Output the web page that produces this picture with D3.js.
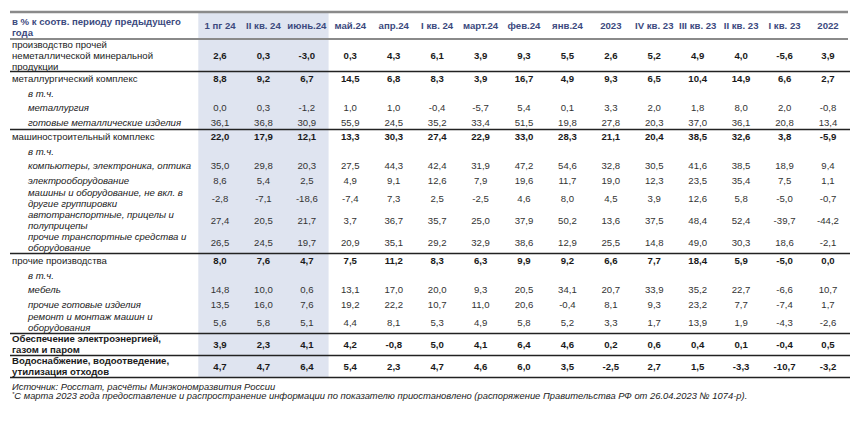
<!DOCTYPE html>
<html><head><meta charset="utf-8">
<script src="https://cdn.jsdelivr.net/npm/d3@7"></script>
<style>
html,body{margin:0;padding:0;background:#fff;}
svg{display:block;font-family:"Liberation Sans",Arial,sans-serif;}
</style></head>
<body><svg id="c" width="860" height="427"></svg>
<script>
// ---------- DATA ----------
const headerTitle = ["в % к соотв. периоду предыдущего", "года"];
const columns = ["1 пг 24","II кв. 24","июнь.24","май.24","апр.24","I кв. 24","март.24","фев.24","янв.24","2023","IV кв. 23","III кв. 23","II кв. 23","I кв. 23","2022"];
const highlighted = ["1 пг 24","II кв. 24","июнь.24"];

const nonMetal      = [2.6,0.3,-3.0,0.3,4.3,6.1,3.9,9.3,5.5,2.6,5.2,4.9,4.0,-5.6,3.9];
const metalComplex  = [8.8,9.2,6.7,14.5,6.8,8.3,3.9,16.7,4.9,9.3,6.5,10.4,14.9,6.6,2.7];
const metallurgy    = [0.0,0.3,-1.2,1.0,1.0,-0.4,-5.7,5.4,0.1,3.3,2.0,1.8,8.0,2.0,-0.8];
const metalProducts = [36.1,36.8,30.9,55.9,24.5,35.2,33.4,51.5,19.8,27.8,20.3,37.0,36.1,20.8,13.4];
const machComplex   = [22.0,17.9,12.1,13.3,30.3,27.4,22.9,33.0,28.3,21.1,20.4,38.5,32.6,3.8,-5.9];
const computers     = [35.0,29.8,20.3,27.5,44.3,42.4,31.9,47.2,54.6,32.8,30.5,41.6,38.5,18.9,9.4];
const electrical    = [8.6,5.4,2.5,4.9,9.1,12.6,7.9,19.6,11.7,19.0,12.3,23.5,35.4,7.5,1.1];
const machinery     = [-2.8,-7.1,-18.6,-7.4,7.3,2.5,-2.5,4.6,8.0,4.5,3.9,12.6,5.8,-5.0,-0.7];
const motorVehicles = [27.4,20.5,21.7,3.7,36.7,35.7,25.0,37.9,50.2,13.6,37.5,48.4,52.4,-39.7,-44.2];
const otherTransport= [26.5,24.5,19.7,20.9,35.1,29.2,32.9,38.6,12.9,25.5,14.8,49.0,30.3,18.6,-2.1];
const otherMfg      = [8.0,7.6,4.7,7.5,11.2,8.3,6.3,9.9,9.2,6.6,7.7,18.4,5.9,-5.0,0.0];
const furniture     = [14.8,10.0,0.6,13.1,17.0,20.0,9.3,20.5,34.1,20.7,33.9,35.2,22.7,-6.6,10.7];
const otherGoods    = [13.5,16.0,7.6,19.2,22.2,10.7,11.0,20.6,-0.4,8.1,9.3,23.2,7.7,-7.4,1.7];
const repair        = [5.6,5.8,5.1,4.4,8.1,5.3,4.9,5.8,5.2,3.3,1.7,13.9,1.9,-4.3,-2.6];
const electricity   = [3.9,2.3,4.1,4.2,-0.8,5.0,4.1,6.4,4.6,0.2,0.6,0.4,0.1,-0.4,0.5];
const water         = [4.7,4.7,6.4,5.4,2.3,4.7,4.6,6.0,3.5,-2.5,2.7,1.5,-3.3,-10.7,-3.2];

const sourceNote = "Источник: Росстат, расчёты Минэкономразвития России";
const footNote = "С марта 2023 года предоставление и распространение информации по показателю приостановлено (распоряжение Правительства РФ от 26.04.2023 № 1074-р).";

// row table: [label lines, kind, values, rule below]
const rows = [
  [["производство прочей","неметаллической минеральной","продукции"], "main", nonMetal, true],
  [["металлургический комплекс"], "main", metalComplex, false],
  [["в т.ч."], "sub", null, false],
  [["металлургия"], "sub", metallurgy, false],
  [["готовые металлические изделия"], "sub", metalProducts, true],
  [["машиностроительный комплекс"], "main", machComplex, false],
  [["в т.ч."], "sub", null, false],
  [["компьютеры, электроника, оптика"], "sub", computers, false],
  [["электрооборудование"], "sub", electrical, false],
  [["машины и оборудование, не вкл. в","другие группировки"], "sub", machinery, false],
  [["автотранспортные, прицелы и","полуприцепы"], "sub", motorVehicles, false],
  [["прочие транспортные средства и","оборудование"], "sub", otherTransport, true],
  [["прочие производства"], "main", otherMfg, false],
  [["в т.ч."], "sub", null, false],
  [["мебель"], "sub", furniture, false],
  [["прочие готовые изделия"], "sub", otherGoods, false],
  [["ремонт и монтаж машин и","оборудования"], "sub", repair, true],
  [["Обеспечение электроэнергией,","газом и паром"], "total", electricity, true],
  [["Водоснабжение, водоотведение,","утилизация отходов"], "total", water, true]
];

// ---------- DRAW ----------
const svg = d3.select("#c");
const fmt = d3.formatLocale({decimal:",", thousands:" ", grouping:[3], currency:["",""], minus:"-"}).format(".1f");

const left = 10, right = 850, headerTop = 12, headerBottom = 39;
const x = d3.scaleBand().domain(columns).range([198.3, 849.7]).padding(0);
const fs = 9.6, lineH = 11;

const heightOf = r => r[2] === "total" ? 23.5 : (r[0].length === 1 ? 14.5 : (r[0].length === 2 ? 22 : 32.5));
const tops = [headerBottom];
rows.forEach((r,i) => tops.push(tops[i] + heightOf(r)));
const bottom = tops[tops.length-1];

// highlighted column shading
const hx0 = x(highlighted[0]), hx1 = x(highlighted[highlighted.length-1]) + x.bandwidth();
svg.append("rect").attr("x", hx0).attr("y", headerTop).attr("width", hx1 - hx0)
  .attr("height", bottom - headerTop).attr("fill", "#dfe4f0");

// header
const headerColor = "#3c4a7e";
const ht = svg.append("text").attr("x", 12).attr("font-size", fs).attr("font-weight", "bold").attr("fill", headerColor);
headerTitle.forEach((t,i) => ht.append("tspan").attr("x", 12).attr("y", 24.5 + i*lineH).text(t));
svg.selectAll("text.col").data(columns).join("text").attr("class","col")
  .attr("x", d => x(d) + x.bandwidth()/2).attr("y", 28.5)
  .attr("text-anchor","middle").attr("font-size", fs).attr("font-weight","bold").attr("fill", headerColor)
  .text(d => d);

// rows
rows.forEach((r,i) => {
  const [lines, kind, vals] = r;
  const cy = (tops[i] + tops[i+1]) / 2;
  const isSub = kind === "sub";
  const lx = isSub ? 28 : 12;
  const t = svg.append("text").attr("font-size", fs).attr("fill", "#1a1a1a")
    .attr("font-style", isSub ? "italic" : "normal")
    .attr("font-weight", kind === "total" ? "bold" : "normal");
  const y0 = cy - (lines.length - 1) * lineH / 2;
  lines.forEach((l,j) => t.append("tspan").attr("x", lx).attr("y", y0 + j*lineH).attr("dy","0.35em").text(l));
  if (vals) {
    svg.append("g").selectAll("text").data(vals).join("text")
      .attr("x", (d,k) => x(columns[k]) + x.bandwidth()/2)
      .attr("y", cy).attr("dy", "0.35em")
      .attr("text-anchor","middle").attr("font-size", fs)
      .attr("font-weight", isSub ? "normal" : "bold")
      .attr("fill", isSub ? "#333" : "#1a1a1a")
      .text(d => fmt(d));
  }
});

// rules
svg.append("line").attr("x1", left).attr("x2", right - 2).attr("y1", headerTop).attr("y2", headerTop)
  .attr("stroke", "#8a8a8a").attr("stroke-width", 2.5);
svg.append("line").attr("x1", left).attr("x2", right - 2).attr("y1", headerBottom).attr("y2", headerBottom)
  .attr("stroke", "#8a8a8a").attr("stroke-width", 2.2);
rows.forEach((r,i) => {
  if (r[3]) svg.append("line").attr("x1", left).attr("x2", right).attr("y1", tops[i+1]).attr("y2", tops[i+1])
    .attr("stroke", "#222").attr("stroke-width", 1.3);
});

// notes
svg.append("text").attr("x", 12).attr("y", bottom + 12).attr("font-size", 9.4).attr("font-style","italic")
  .attr("fill","#222").text(sourceNote);
const fn = svg.append("text").attr("x", 12).attr("y", bottom + 21.5).attr("font-size", 9.4).attr("font-style","italic").attr("fill","#222");
fn.append("tspan").attr("font-size", 6).attr("dy", -3).text("*");
fn.append("tspan").attr("dy", 3).text(footNote);
</script></body></html>
